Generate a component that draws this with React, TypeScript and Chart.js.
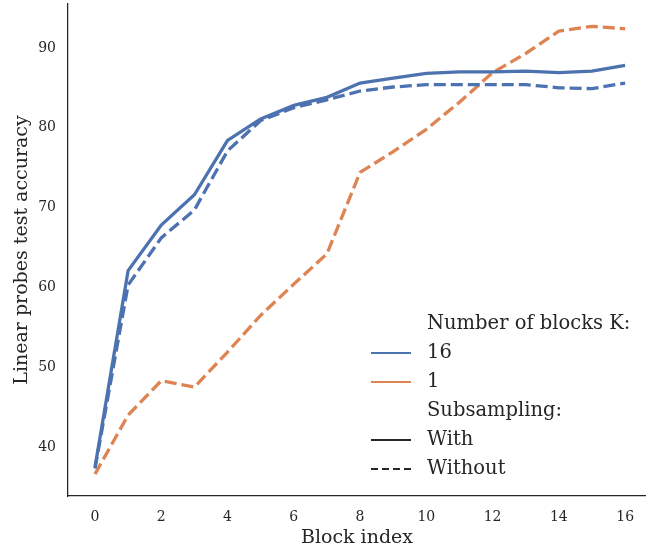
import React, { useEffect, useRef } from "react";
import { Chart, registerables } from "chart.js";

Chart.register(...registerables);

const blockIndex = [0, 1, 2, 3, 4, 5, 6, 7, 8, 9, 10, 11, 12, 13, 14, 15, 16];
const k16With = [37.5, 62.1, 67.8, 71.6, 78.4, 81.1, 82.8, 83.8, 85.6, 86.2, 86.8, 87.0, 87.0, 87.1, 86.9, 87.1, 87.8];
const k16Without = [37.3, 60.3, 66.2, 69.7, 77.1, 80.9, 82.5, 83.5, 84.6, 85.1, 85.4, 85.4, 85.4, 85.4, 85.0, 84.9, 85.6];
const k1Without = [36.6, 44.0, 48.3, 47.5, 51.9, 56.5, 60.4, 64.2, 74.4, 77.0, 79.8, 83.2, 86.9, 89.3, 92.1, 92.7, 92.4];
const xTickStep = 2;
const yTickStep = 10;

const legendRows = [
  { label: "Number of blocks K:", color: null, dash: null },
  { label: "16", color: "#4c72b0", dash: [] },
  { label: "1", color: "#dd8452", dash: [] },
  { label: "Subsampling:", color: null, dash: null },
  { label: "With", color: "#262626", dash: [] },
  { label: "Without", color: "#262626", dash: [7, 4] },
];

const BLUE = "#4c72b0";
const ORANGE = "#dd8452";
const INK = "#262626";
const FONT = "'DejaVu Serif', serif";

const legendPlugin = {
  id: "customLegend",
  afterDraw(chart: any) {
    const ctx = chart.ctx;
    ctx.save();
    ctx.font = `19.5px ${FONT}`;
    ctx.textBaseline = "middle";
    ctx.textAlign = "left";
    const x0 = 371;
    const x1 = 411;
    const tx = 427;
    let y = 324;
    for (const row of legendRows) {
      if (row.color) {
        ctx.beginPath();
        ctx.strokeStyle = row.color;
        ctx.lineWidth = 2;
        ctx.setLineDash(row.dash || []);
        ctx.moveTo(x0, y);
        ctx.lineTo(x1, y);
        ctx.stroke();
        ctx.setLineDash([]);
      }
      ctx.fillStyle = INK;
      ctx.fillText(row.label, tx, y);
      y += 29;
    }
    ctx.restore();
  },
};

export default function App() {
  const ref = useRef<HTMLCanvasElement>(null);
  useEffect(() => {
    document.body.style.margin = "0";
    const toPts = (arr: number[]) => blockIndex.map((x, i) => ({ x, y: arr[i] }));
    const chart = new Chart(ref.current!, {
      type: "line",
      data: {
        datasets: [
          { label: "16 With", data: toPts(k16With), borderColor: BLUE, borderWidth: 3.3, pointRadius: 0, borderDash: [], tension: 0 },
          { label: "16 Without", data: toPts(k16Without), borderColor: BLUE, borderWidth: 3.3, pointRadius: 0, borderDash: [12, 5], tension: 0 },
          { label: "1 Without", data: toPts(k1Without), borderColor: ORANGE, borderWidth: 3.3, pointRadius: 0, borderDash: [12, 5], tension: 0 },
        ],
      },
      options: {
        animation: false,
        responsive: true,
        maintainAspectRatio: false,
        layout: { padding: { top: 4, right: 0, left: 0, bottom: 0 } },
        plugins: { legend: { display: false }, tooltip: { enabled: false } },
        scales: {
          x: {
            type: "linear",
            min: -0.815,
            max: 16.63,
            grid: { display: false, drawTicks: false },
            border: { display: true, color: INK, width: 1.25 },
            ticks: { stepSize: xTickStep, includeBounds: false, color: INK, font: { family: FONT, size: 14 }, padding: 13, maxRotation: 0 },
            title: { display: true, text: "Block index", color: INK, font: { family: FONT, size: 19 }, padding: { top: 2, bottom: 2 } },
            afterFit: (s: any) => { s.height = 55; s.paddingLeft = 0; s.paddingRight = 0; },
          },
          y: {
            type: "linear",
            min: 33.86,
            max: 95.5,
            grid: { display: false, drawTicks: false },
            border: { display: true, color: INK, width: 1.25 },
            ticks: { stepSize: yTickStep, includeBounds: false, color: INK, font: { family: FONT, size: 14 }, padding: 12 },
            title: { display: true, text: "Linear probes test accuracy", color: INK, font: { family: FONT, size: 19 }, padding: { top: 11, bottom: 0 } },
            afterFit: (s: any) => { s.width = 68; s.paddingTop = 0; s.paddingBottom = 0; },
          },
        },
      },
      plugins: [legendPlugin],
    });
    return () => chart.destroy();
  }, []);
  return (
    <div style={{ position: "fixed", left: 0, top: 0, width: 646, height: 551 }}>
      <canvas ref={ref} />
    </div>
  );
}
